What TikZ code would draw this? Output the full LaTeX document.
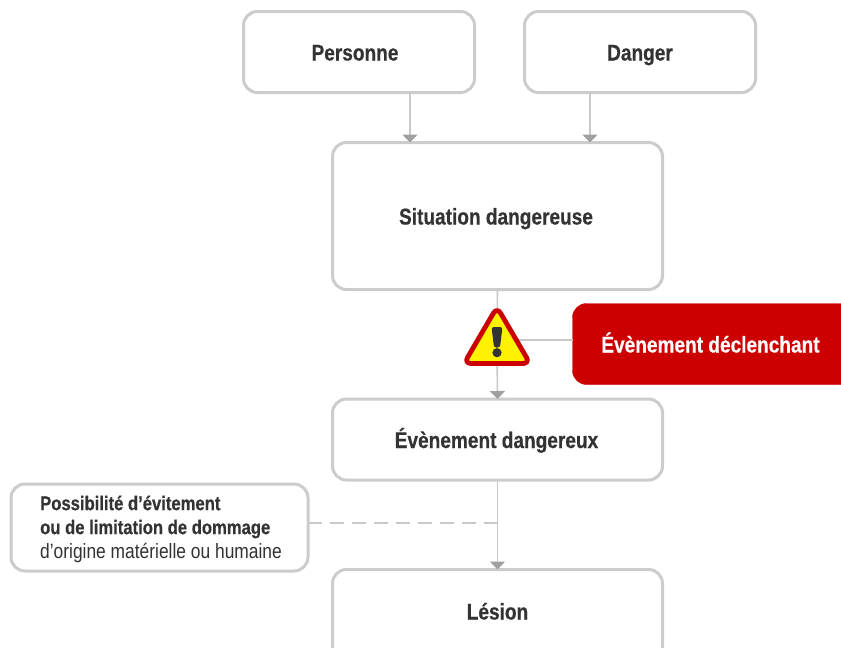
\documentclass[tikz,border=0pt]{standalone}
\usepackage{fontspec}
\setmainfont{Liberation Sans}[FakeStretch=0.84,BoldFeatures={FakeBold=0.5}]
\usetikzlibrary{arrows.meta,positioning}
\definecolor{boxline}{HTML}{CCCCCC}
\definecolor{linkline}{HTML}{C8C8C8}
\definecolor{tipgray}{HTML}{A0A0A0}
\definecolor{inktext}{HTML}{333333}
\definecolor{alertred}{HTML}{CC0000}
\tikzset{
  x=1pt,y=-1pt,
  labelfont/.style={font=\bfseries\fontsize{22.7}{27}\selectfont,text height=19pt,text depth=2pt},
  flowbox/.style={draw=boxline,line width=3pt,rounded corners=14pt,outer sep=0pt,inner sep=0pt,fill=white,
    text=inktext,labelfont,align=center},
  link/.style={draw=linkline,line width=1.6pt},
  arrowlink/.style={link,-{Triangle[width=15pt,length=8pt,color=tipgray]}},
  dashlink/.style={draw=linkline,line width=1.6pt,dash pattern=on 14pt off 8pt},
}
\begin{document}
\begin{tikzpicture}
\useasboundingbox (0,0) rectangle (841,648);
\clip (0,0) rectangle (841,648);
\fill[white] (0,0) rectangle (841,648);
% boxes
\node[flowbox,minimum width=231pt,minimum height=81pt] (per) at (359,52) {Personne\kern8pt};
\node[flowbox,minimum width=231pt,minimum height=81pt] (dan) at (640,52) {Danger};
\node[flowbox,minimum width=330pt,minimum height=147pt] (sit) at (497.5,216) {Situation dangereuse\kern3pt};
\node[flowbox,minimum width=330pt,minimum height=81pt] (evd) at (497.5,439.5) {Évènement dangereux\kern2pt};
\node[flowbox,minimum width=330pt,minimum height=90pt] (les) at (497.5,614.5) {};
\node[text=inktext,labelfont] (lest) at (497.5,611) {Lésion};
\node[flowbox,minimum width=297pt,minimum height=87pt] (pos) at (159.5,527.5) {};
\node[anchor=west,text=inktext,font=\fontsize{19.8}{24}\selectfont,align=left,inner sep=0pt] (post) at (40,529)
  {\textbf{Possibilité d’évitement}\\\textbf{ou de limitation de dommage}\\{\fontsize{20.7}{24}\selectfont d’origine matérielle ou humaine}};
\node[draw=alertred,fill=alertred,rounded corners=14pt,minimum width=300pt,minimum height=81pt,outer sep=0pt,inner sep=0pt] (red) at (722.5,344) {};
\node[text=white,labelfont] (redt) at (710.5,344) {Évènement déclenchant};
% helper coordinates
\coordinate (warn) at (497,340);
\coordinate (j1) at (410,0);
\coordinate (j2) at (590,0);
\coordinate (j3) at (497.5,523);
% connectors
\draw[arrowlink] (j1 |- per.south) -- (j1 |- sit.north);
\draw[arrowlink] (j2 |- dan.south) -- (j2 |- sit.north);
\draw[link] (sit.south) -- (warn);
\draw[arrowlink] (warn) -- (evd.north);
\draw[link] (red.west |- warn) -- (warn);
\draw[arrowlink] (evd.south) -- (les.north);
\draw[dashlink] (pos.east |- j3) -- (j3);
% warning sign
\draw[draw=alertred,fill=yellow,line width=4.8pt,line join=round,rounded corners=7pt]
  (497,307) -- (530,363.5) -- (464,363.5) -- cycle;
\fill[inktext,rounded corners=2.5pt] (491.5,327) -- (502.5,327) -- (500,347.5) -- (494,347.5) -- cycle;
\fill[inktext] (497,352.7) circle (4.6pt);
\end{tikzpicture}
\end{document}
